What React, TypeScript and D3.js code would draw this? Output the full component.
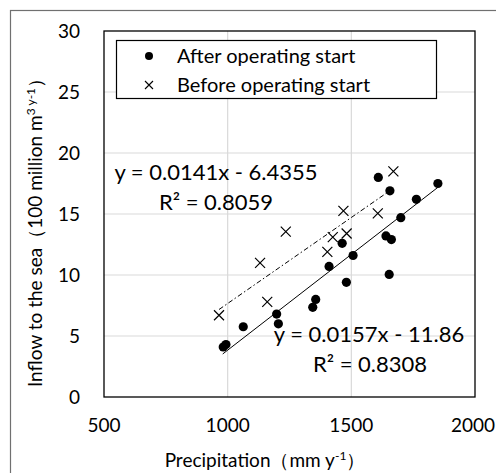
import React from "react";
import * as d3 from "d3";

// after operating start (filled dots)
const afterPrecip = [982, 993, 1063, 1198, 1205, 1344, 1356, 1410, 1463, 1480, 1507, 1609, 1640, 1653, 1656, 1662, 1700, 1763, 1850];
const afterInflow = [4.1, 4.3, 5.76, 6.8, 6.0, 7.35, 8.0, 10.7, 12.6, 9.4, 11.6, 18.0, 13.2, 10.05, 16.9, 12.9, 14.7, 16.2, 17.5];

// before operating start (crosses)
const beforePrecip = [965, 1131, 1160, 1235, 1403, 1425, 1468, 1481, 1607, 1670];
const beforeInflow = [6.7, 11.0, 7.8, 13.55, 11.9, 13.1, 15.25, 13.4, 15.05, 18.5];

const xTicks = [500, 1000, 1500, 2000];
const yTicks = [0, 5, 10, 15, 20, 25, 30];

const fitAfter = { a: 0.0157, b: -11.86, r2: "0.8308", from: 980, to: 1850 };
const fitBefore = { a: 0.0141, b: -6.4355, r2: "0.8059", from: 965, to: 1665 };

const W = 496;
const H = 473;
const font = "Lato, 'Open Sans', sans-serif";

export default function App() {
  const x = d3.scaleLinear().domain([500, 2000]).range([104, 475]);
  const y = d3.scaleLinear().domain([0, 30]).range([397, 31]);

  const afterLine = d3
    .line<number>()
    .x((d) => x(d))
    .y((d) => y(fitAfter.a * d + fitAfter.b))([fitAfter.from, fitAfter.to]);
  const beforeLine = d3
    .line<number>()
    .x((d) => x(d))
    .y((d) => y(fitBefore.a * d + fitBefore.b))([fitBefore.from, fitBefore.to]);

  const cross = (cx: number, cy: number, s: number) =>
    `M${cx - s},${cy - s}L${cx + s},${cy + s}M${cx - s},${cy + s}L${cx + s},${cy - s}`;

  return (
    <div style={{ position: "absolute", left: 0, top: 0 }}>
      <svg width={W} height={H} style={{ display: "block", background: "#fff" }} fontFamily={font}>
        <rect x={10.5} y={10.5} width={W + 20} height={H + 20} fill="#fff" stroke="#707070" strokeWidth={1.2} />

        {/* grid */}
        {xTicks.slice(1, -1).map((t) => (
          <line key={"gx" + t} x1={x(t)} x2={x(t)} y1={y(0)} y2={y(30)} stroke="#d9d9d9" strokeWidth={1.2} />
        ))}
        {yTicks.slice(1, -1).map((t) => (
          <line key={"gy" + t} x1={x(500)} x2={x(2000)} y1={y(t)} y2={y(t)} stroke="#d9d9d9" strokeWidth={1.2} />
        ))}

        <rect x={x(500)} y={y(30)} width={x(2000) - x(500)} height={y(0) - y(30)} fill="none" stroke="#000" strokeWidth={1.3} />

        {/* tick labels */}
        {xTicks.map((t, i) => (
          <text
            key={"xt" + t}
            x={i === xTicks.length - 1 ? 495 : x(t)}
            y={432}
            textAnchor={i === xTicks.length - 1 ? "end" : "middle"}
            fontSize={19}
            fill="#000"
          >
            {t}
          </text>
        ))}
        {yTicks.map((t) => (
          <text key={"yt" + t} x={80} y={y(t) + 7} textAnchor="end" fontSize={19} fill="#000">
            {t}
          </text>
        ))}

        {/* fits */}
        <path d={afterLine || ""} stroke="#000" strokeWidth={1} fill="none" />
        <path d={beforeLine || ""} stroke="#000" strokeWidth={1} fill="none" strokeDasharray="5,2.5,1.5,2.5" />

        {/* points */}
        {afterPrecip.map((p, i) => (
          <circle key={"a" + i} cx={x(p)} cy={y(afterInflow[i])} r={4.6} fill="#000" />
        ))}
        {beforePrecip.map((p, i) => (
          <path key={"b" + i} d={cross(x(p), y(beforeInflow[i]), 5)} stroke="#000" strokeWidth={1.2} fill="none" />
        ))}

        {/* equations */}
        <text x={216} y={180} textAnchor="middle" fontSize={22}>
          y = {fitBefore.a}x - {Math.abs(fitBefore.b)}
        </text>
        <text x={216} y={210} textAnchor="middle" fontSize={22}>
          R² = {fitBefore.r2}
        </text>
        <text x={369} y={342} textAnchor="middle" fontSize={22}>
          y = {fitAfter.a}x - {Math.abs(fitAfter.b)}
        </text>
        <text x={370} y={372} textAnchor="middle" fontSize={22}>
          R² = {fitAfter.r2}
        </text>

        {/* legend */}
        <rect x={116.5} y={40.5} width={320} height={58} fill="#fff" stroke="#000" strokeWidth={1.2} />
        <circle cx={149} cy={56} r={4} fill="#000" />
        <text x={177} y={62.5} fontSize={20}>After operating start</text>
        <path d={cross(149, 85, 4)} stroke="#000" strokeWidth={1.1} fill="none" />
        <text x={177} y={91.5} fontSize={20}>Before operating start</text>

        {/* axis titles */}
        <text x={265} y={467} textAnchor="middle" fontSize={19}>
          Precipitation（mm y<tspan fontSize={12} dy={-7}>-1</tspan>
          <tspan dy={7}>）</tspan>
        </text>
        <text transform="translate(42,228) rotate(-90)" textAnchor="middle" fontSize={19}>
          Inflow to the sea（100 million m<tspan fontSize={12} dy={-7}>3 y-1</tspan>
          <tspan dy={7}>）</tspan>
        </text>
      </svg>
    </div>
  );
}
